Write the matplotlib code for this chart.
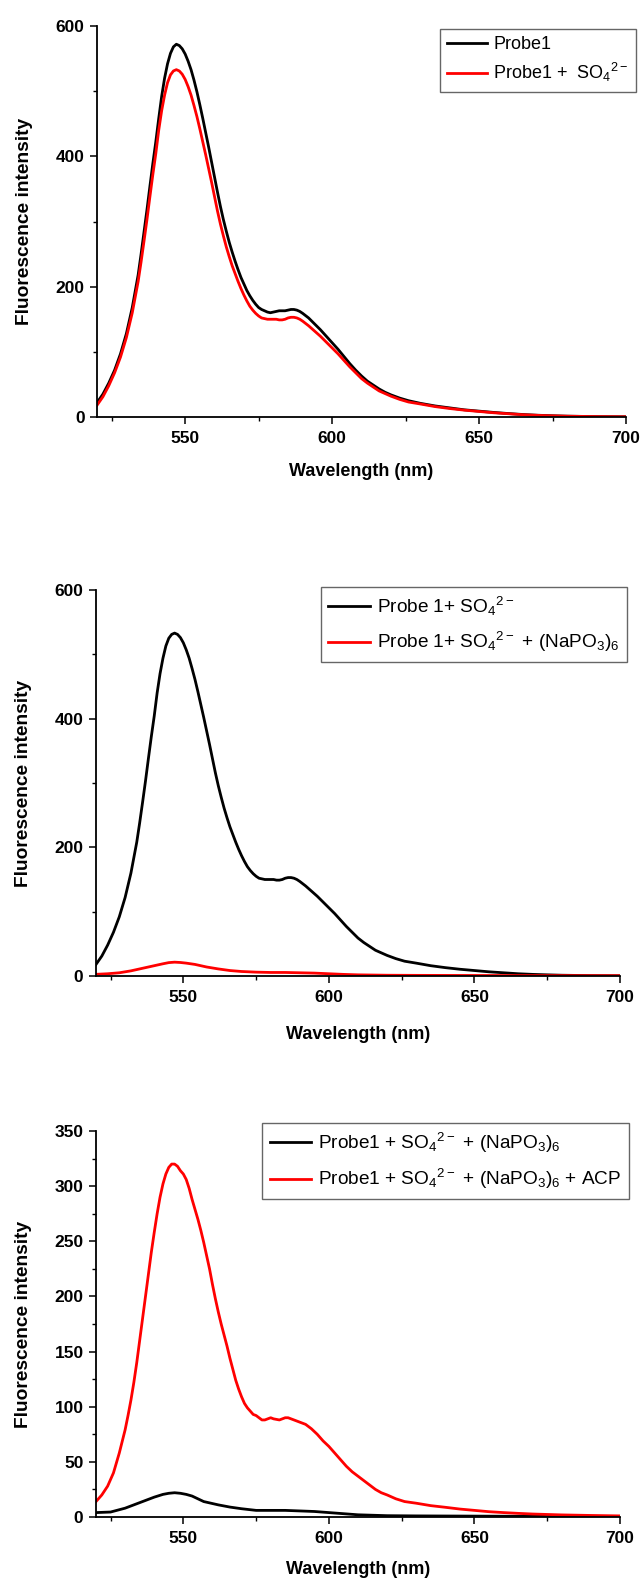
import matplotlib
matplotlib.use("Agg")
import matplotlib.pyplot as plt
from matplotlib.ticker import MultipleLocator

plt.rcParams['font.family'] = ['Liberation Sans', 'DejaVu Sans']
plt.rcParams['mathtext.default'] = 'regular'

# Panel 1: Probe1 vs Probe1 + SO4 (also panel 2 black)
wl_a = [520, 522, 524, 526, 528, 530, 532, 534, 535, 536, 537, 538, 539, 540,
        541, 542, 543, 544, 545, 546, 547, 548, 549, 550, 551, 552, 553, 554,
        555, 556, 557, 558, 559, 560, 561, 562, 563, 564, 565, 566, 567, 568,
        569, 570, 571, 572, 573, 574, 575, 576, 577, 578, 579, 580, 581, 582,
        583, 584, 585, 586, 587, 588, 589, 590, 592, 594, 596, 598, 600, 602,
        604, 606, 608, 610, 612, 614, 616, 618, 620, 623, 626, 630, 635, 640,
        645, 650, 655, 660, 665, 670, 675, 680, 690, 700]
probe1 = [22, 35, 52, 72, 97, 128, 168, 218, 250, 284, 318, 354, 389, 422,
          458, 492, 520, 542, 558, 568, 572, 570, 565, 557, 546, 533, 517, 499,
          479, 458, 436, 414, 391, 368, 345, 323, 303, 285, 268, 253, 239, 226,
          214, 204, 194, 186, 179, 173, 168, 165, 163, 161, 160, 161, 162, 163,
          163, 163, 164, 165, 165, 164, 162, 159, 152, 143, 134, 124, 114, 104,
          93, 82, 72, 63, 55, 49, 43, 38, 34, 29, 25, 21, 17, 14,
          11, 9, 7, 5.3, 3.8, 2.7, 1.9, 1.3, 0.6, 0.3]
probe1_so4 = [18, 31, 48, 68, 92, 122, 160, 208, 238, 270, 303, 338, 372, 404,
              440, 470, 494, 513, 525, 531, 533, 531, 526, 518, 507, 494, 478, 461,
              442, 422, 402, 381, 360, 338, 316, 296, 278, 261, 246, 232, 220, 208,
              197, 187, 178, 170, 164, 159, 155, 152, 151, 150, 150, 150, 150, 149,
              149, 150, 152, 153, 153, 152, 150, 147, 140, 132, 124, 115, 106, 97,
              87, 77, 68, 59, 52, 46, 40, 36, 32, 27, 23, 20, 16, 13,
              10.5, 8.5, 6.5, 5, 3.5, 2.5, 1.8, 1.2, 0.6, 0.3]

# Panel 2: + (NaPO3)6
wl_b = [520, 524, 528, 532, 536, 540, 543, 545, 547, 549, 551, 554, 558, 562,
        566, 570, 575, 580, 585, 590, 595, 600, 605, 610, 620, 630, 650, 670, 700]
probe1_so4_napo3 = [2.6, 3.5, 5, 8, 12, 16, 19, 20.8, 21.5, 21, 20, 18, 14, 11,
                    8.5, 7, 6, 5.5, 5.5, 5, 4.5, 3.5, 2.5, 1.8, 1.2, 1, 0.8, 0.6, 0.5]

# Panel 3: + ACP
wl_c = [520, 522, 524, 526, 528, 530, 531, 532, 533, 534, 535, 536, 537, 538,
        539, 540, 541, 542, 543, 544, 545, 546, 547, 548, 549, 550, 551, 552,
        553, 554, 555, 556, 557, 558, 559, 560, 561, 562, 563, 564, 565, 566,
        567, 568, 569, 570, 571, 572, 573, 574, 575, 576, 577, 578, 579, 580,
        581, 582, 583, 584, 585, 586, 587, 588, 589, 590, 592, 594, 596, 598,
        600, 602, 604, 606, 608, 610, 612, 614, 616, 618, 620, 623, 626, 630,
        635, 640, 645, 650, 655, 660, 665, 670, 675, 680, 690, 700]
probe1_acp = [14, 20, 28, 40, 58, 79, 92, 106, 122, 140, 160, 180, 200, 220,
              240, 258, 275, 290, 302, 311, 317, 320, 320, 318, 314, 311, 306, 298,
              288, 279, 270, 260, 249, 237, 225, 211, 198, 186, 175, 165, 155, 144,
              134, 124, 116, 109, 103, 99, 96, 93, 92, 90, 88, 88, 89, 90,
              89, 88.5, 88, 89, 90, 90, 89, 88, 87, 86, 84, 80, 75, 69,
              64, 58, 52, 46, 41, 37, 33, 29, 25, 22, 20, 16.5, 14, 12.5,
              10.3, 8.8, 7.2, 6, 4.8, 4, 3.3, 2.7, 2.3, 1.9, 1.4, 1]
wl_d = [520, 525, 530, 535, 540, 543, 545, 547, 549, 551, 553, 557, 562, 566,
        570, 575, 580, 585, 590, 595, 600, 605, 610, 620, 630, 650, 670, 700]
probe1_napo3_c = [4, 4.5, 8, 13, 18, 20.5, 21.5, 22, 21.5, 20.5, 19, 14, 11, 9,
                  7.5, 6, 6, 6, 5.5, 5, 4, 3, 2, 1.2, 1, 0.8, 0.6, 0.5]

W, H = 644, 1580
fig = plt.figure(figsize=(W / 100, H / 100), dpi=100)


def style(ax, ymax, ymajor, yminor, labelpad_x):
    ax.set_xlim(520, 700)
    ax.set_ylim(0, ymax)
    ax.spines['top'].set_visible(False)
    ax.spines['right'].set_visible(False)
    for s in ['left', 'bottom']:
        ax.spines[s].set_linewidth(1.3)
    ax.xaxis.set_major_locator(MultipleLocator(50))
    ax.xaxis.set_minor_locator(MultipleLocator(25))
    ax.yaxis.set_major_locator(MultipleLocator(ymajor))
    ax.yaxis.set_minor_locator(MultipleLocator(yminor))
    ax.tick_params(which='major', direction='out', length=5, width=1.1, labelsize=12.5)
    ax.tick_params(which='minor', direction='out', length=3, width=1.0)
    ax.tick_params(axis='x', which='major', pad=5)
    ax.tick_params(axis='y', which='major', pad=4)
    for lab in ax.get_xticklabels() + ax.get_yticklabels():
        lab.set_fontweight('bold')
    ax.set_xlabel('Wavelength (nm)', fontsize=13, fontweight='bold', labelpad=labelpad_x)
    ax.set_ylabel('Fluorescence intensity', fontsize=13.8, fontweight='bold', labelpad=16)


def legend(ax, x1, y0, size, spacing):
    leg = ax.legend(loc='upper right', bbox_to_anchor=(x1 / W, 1 - y0 / H),
                    bbox_transform=fig.transFigure, fontsize=size, frameon=True,
                    fancybox=False, handlelength=2.2, handletextpad=0.35,
                    borderpad=0.4, labelspacing=spacing, borderaxespad=0)
    leg.get_frame().set_edgecolor('#404040')
    leg.get_frame().set_linewidth(1.0)


# panel 1
ax1 = fig.add_axes([97 / W, 1 - 417 / H, 529 / W, 391 / H])
ax1.plot(wl_a, probe1, color='black', lw=2, label='Probe1')
ax1.plot(wl_a, probe1_so4, color='red', lw=2, label='Probe1 +  SO$_4$$^{2-}$')
style(ax1, 600, 200, 100, 12)
legend(ax1, 636, 29, 13, 0.45)

# panel 2
ax2 = fig.add_axes([96 / W, 1 - 976 / H, 524 / W, 386 / H])
ax2.plot(wl_a, probe1_so4, color='black', lw=2, label='Probe 1+ SO$_4$$^{2-}$')
ax2.plot(wl_b, probe1_so4_napo3, color='red', lw=2,
         label='Probe 1+ SO$_4$$^{2-}$ + (NaPO$_3$)$_6$')
style(ax2, 600, 200, 100, 15.5)
legend(ax2, 627, 587, 13.7, 0.65)

# panel 3
ax3 = fig.add_axes([96 / W, 1 - 1517 / H, 524 / W, 386 / H])
ax3.plot(wl_d, probe1_napo3_c, color='black', lw=2,
         label='Probe1 + SO$_4$$^{2-}$ + (NaPO$_3$)$_6$')
ax3.plot(wl_c, probe1_acp, color='red', lw=2,
         label='Probe1 + SO$_4$$^{2-}$ + (NaPO$_3$)$_6$ + ACP')
style(ax3, 350, 50, 25, 11)
legend(ax3, 629, 1123, 13.7, 0.65)

fig.savefig('out.png', dpi=100)
